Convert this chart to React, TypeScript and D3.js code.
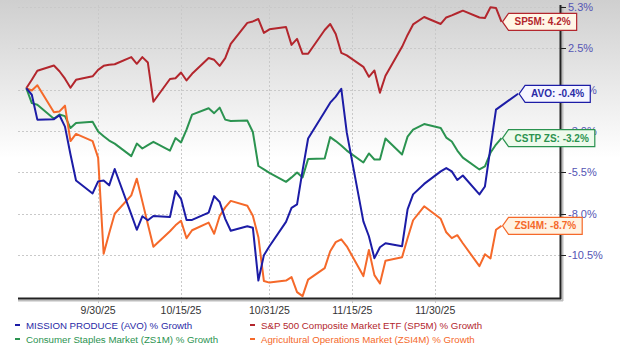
import * as d3 from 'd3'
import React, { useEffect, useRef } from 'react'

// trading days shown on the chart (2025)
const dates = [
  '9/17', '9/18', '9/19', '9/22', '9/23', '9/24', '9/25', '9/26', '9/29', '9/30',
  '10/1', '10/2', '10/3', '10/6', '10/7', '10/8', '10/9', '10/10', '10/13', '10/14',
  '10/15', '10/16', '10/17', '10/20', '10/21', '10/22', '10/23', '10/24', '10/27', '10/28',
  '10/29', '10/30', '10/31', '11/3', '11/4', '11/5', '11/6', '11/7', '11/10', '11/11',
  '11/12', '11/13', '11/14', '11/17', '11/18', '11/19', '11/20', '11/21', '11/24', '11/25',
  '11/26', '11/28', '12/1', '12/2', '12/3', '12/4', '12/5', '12/8', '12/9', '12/10',
  '12/11', '12/12', '12/15',
]

const avo = [
  0, -0.41, -1.98, -1.95, -1.7, -2.42, -4.18, -5.81, -6.63, -5.87,
  -5.81, -6.12, -5.09, -7.95, -8.92, -8.07, -8.32, -8.05, -8.12, -6.48,
  -6.97, -8.3, -8.3, -7.84, -6.8, -7.17, -8.23, -8.98, -8.7, -8.79,
  -12.12, -10.52, -9.96, -8.42, -7.54, -7.32, -5.18, -3.17, -1.48, -0.91,
  -0.53, -0.03, -2.8, -8.39, -9.33, -10.71, -10.02, -9.77, -9.96, -7.63,
  -6.69, -6.03, -5.24, -5.03, -5.24, -5.78, -5.5, -6.69, -6.19, -3.74,
  -1.35, -1.1, -0.35,
]

const sp5m = [
  0, 0.53, 1.1, 1.43, 1.07, 0.6, 0.03, 0.53, 0.75, 1.16,
  1.41, 1.48, 1.51, 1.96, 1.54, 1.96, 1.62, -0.85, 0.58, 0.63,
  0.99, 0.49, 0.91, 1.9, 1.79, 1.41, 1.9, 2.8, 4.12, 4.21,
  4.36, 3.49, 3.71, 3.86, 2.73, 3.11, 2.17, 2.17, 3.67, 4.05,
  3.42, 2.23, 2.07, 1.35, 0.72, 1.12, -0.28, 0.79, 2.61, 3.36,
  4.02, 4.49, 4.05, 4.46, 4.59, 4.74, 4.89, 4.46, 4.43, 5.1,
  5.06, 4.18,
]

const zs1m = [
  0, -0.94, -1.04, -1.92, -1.66, -1.76, -2.51, -2.19, -2.12, -2.73,
  -3.02, -3.3, -3.49, -4.28, -3.49, -3.8, -3.58, -3.38, -3.93, -3.14,
  -3.42, -2.61, -1.66, -1.26, -1.57, -1.22, -1.98, -2.07, -2.04, -2.76,
  -4.9, -5.12, -5.34, -5.9, -5.62, -5.31, -5.62, -4.46, -4.43, -3.08,
  -3.33, -3.61, -3.93, -4.68, -4.11, -4.49, -4.49, -3.17, -4.18, -3.05,
  -2.61, -2.26, -2.51, -3.11, -3.36, -3.93, -4.37, -5.12, -4.93, -4.07,
  -3.55, -3.15,
]

const zsi4m = [
  0, -0.14, 0.19, -1.51, -1.46, -1.1, -3.33, -2.88, -3.33, -4.37,
  -10.43, -9.14, -7.91, -6.75, -5.7, -7.13, -8.57, -9.99, -9.01, -8.64,
  -8.35, -9.45, -8.95, -8.47, -9.17, -8.05, -7.51, -7.1, -7.41, -8.04,
  -9.39, -12.15, -12.25, -12.12, -11.9, -12.85, -13.1, -12.06, -11.34, -10.27,
  -9.7, -9.52, -9.96, -11.84, -10.19, -11.78, -12.31, -10.87, -10.65, -9.45,
  -8.32, -7.44, -8.23, -9.08, -9.45, -9.26, -9.77, -11.21, -10.46, -10.73,
  -8.92, -8.67,
]

const yTicks = [5.12, 2.51, -0.09, -2.7, -5.31, -7.91, -10.52]
const yTickLabels = ['5.3%', '2.5%', '-0.2%', '-3.0%', '-5.5%', '-8.0%', '-10.5%']
const xTicks = ['9/30', '10/15', '10/31', '11/15', '11/30']

const series = [
  { key: 'SP5M', values: sp5m, tag: 'SP5M: 4.2%', legend: 'S&P 500 Composite Market ETF (SP5M) % Growth', color: '#b3262d', fill: '#fff6e6', text: '#b3262d' },
  { key: 'ZS1M', values: zs1m, tag: 'CSTP ZS: -3.2%', legend: 'Consumer Staples Market (ZS1M) % Growth', color: '#2b9350', fill: '#eefaec', text: '#2b9350' },
  { key: 'ZSI4M', values: zsi4m, tag: 'ZSI4M: -8.7%', legend: 'Agricultural Operations Market (ZSI4M) % Growth', color: '#f5692a', fill: '#fff3e3', text: '#f5692a' },
  { key: 'AVO', values: avo, tag: 'AVO: -0.4%', legend: 'MISSION PRODUCE (AVO) % Growth', color: '#1c1ca6', fill: '#f6f6ff', text: '#2a2aa6' },
]
const legendOrder = ['AVO', 'SP5M', 'ZS1M', 'ZSI4M']

const W = 620
const H = 352
const left = 18
const right = 560
const top = 5
const bottom = 298
const font = 'Liberation Sans, Arial, sans-serif'

const parse = (s: string) => {
  const [m, d] = s.split('/').map(Number)
  return new Date(2025, m - 1, d)
}

export default function App() {
  const ref = useRef<SVGSVGElement>(null)

  useEffect(() => {
    const svg = d3.select(ref.current)
    svg.selectAll('*').remove()

    const x = d3.scaleTime()
      .domain([new Date(2025, 8, 15, 12), new Date(2025, 11, 22, 14)])
      .range([left, right])
    const y = d3.scaleLinear().domain([-13.22, 5.245]).range([bottom, top])

    const defs = svg.append('defs')
    const grad = defs.append('linearGradient').attr('id', 'bg').attr('x1', 0).attr('x2', 0).attr('y1', 0).attr('y2', 1)
    grad.append('stop').attr('offset', 0).attr('stop-color', '#cfcfcf')
    grad.append('stop').attr('offset', 0.45).attr('stop-color', '#ffffff')
    svg.append('rect').attr('width', W).attr('height', H).attr('fill', 'url(#bg)')

    // grid
    const grid = svg.append('g').attr('stroke', '#c9c9c9').attr('stroke-dasharray', '2,2').attr('stroke-width', 1)
    grid.selectAll('line.h').data(yTicks).join('line')
      .attr('x1', left).attr('x2', right)
      .attr('y1', d => Math.round(y(d)) + 0.5).attr('y2', d => Math.round(y(d)) + 0.5)
    grid.selectAll('line.v').data(xTicks).join('line')
      .attr('x1', d => Math.round(x(parse(d))) + 0.5).attr('x2', d => Math.round(x(parse(d))) + 0.5)
      .attr('y1', top).attr('y2', bottom + 5)

    // lines
    const line = d3.line<number>()
      .x((d, i) => x(parse(dates[i])))
      .y(d => y(d))
    svg.append('g').selectAll('path').data(series).join('path')
      .attr('d', s => line(s.values))
      .attr('fill', 'none')
      .attr('stroke', s => s.color)
      .attr('stroke-width', 2)
      .attr('stroke-linejoin', 'round')

    // axes with shadow
    svg.append('line').attr('x1', left).attr('x2', right + 3).attr('y1', bottom + 2.5).attr('y2', bottom + 2.5).attr('stroke', '#bdbdbd').attr('stroke-width', 2)
    svg.append('line').attr('x1', right + 2.5).attr('x2', right + 2.5).attr('y1', top + 1).attr('y2', bottom + 3).attr('stroke', '#bdbdbd').attr('stroke-width', 2)
    svg.append('line').attr('x1', left).attr('x2', right + 1).attr('y1', bottom + 0.5).attr('y2', bottom + 0.5).attr('stroke', '#222').attr('stroke-width', 2)
    svg.append('line').attr('x1', right + 0.5).attr('x2', right + 0.5).attr('y1', top).attr('y2', bottom + 1).attr('stroke', '#222').attr('stroke-width', 2)

    // y ticks on the right
    const yt = svg.append('g')
    yt.selectAll('line').data(yTicks).join('line')
      .attr('x1', right + 1).attr('x2', right + 6)
      .attr('y1', d => Math.round(y(d)) + 0.5).attr('y2', d => Math.round(y(d)) + 0.5)
      .attr('stroke', '#222')
    yt.selectAll('text').data(yTicks).join('text')
      .attr('x', right + 8).attr('y', d => y(d) + 4)
      .attr('font-family', font).attr('font-size', 11).attr('fill', '#5454b4')
      .text((d, i) => yTickLabels[i])

    // x ticks
    svg.append('g').selectAll('text').data(xTicks).join('text')
      .attr('x', d => x(parse(d))).attr('y', bottom + 16)
      .attr('text-anchor', 'middle')
      .attr('font-family', font).attr('font-size', 10.5).attr('fill', '#333')
      .text(d => d + '/25')

    // end tags, drawn over the axis labels like the original
    const tags = svg.append('g')
    series.forEach(s => {
      const last = s.values.length - 1
      const tx = x(parse(dates[last])) + 1
      const ty = y(s.values[last])
      const g = tags.append('g')
      const t = g.append('text')
        .attr('font-family', font).attr('font-size', 10).attr('font-weight', 'bold')
        .attr('fill', s.text).attr('y', ty + 3.5).text(s.tag)
      const tw = (t.node() as SVGTextElement).getComputedTextLength()
      const bx = tx + 6
      const bw = tw + 12
      const h = 8.5
      g.insert('path', 'text')
        .attr('d', `M${tx},${ty} L${bx},${ty - h} L${bx + bw},${ty - h} L${bx + bw},${ty + h} L${bx},${ty + h} Z`)
        .attr('fill', s.fill).attr('stroke', s.color).attr('stroke-width', 1.2)
      t.attr('x', bx + 6)
    })

    // legend
    const lg = svg.append('g')
    legendOrder.forEach((k, i) => {
      const s = series.find(d => d.key === k)!
      const lx = i % 2 === 0 ? 15 : 250
      const ly = i < 2 ? 325 : 339
      lg.append('line').attr('x1', lx).attr('x2', lx + 5).attr('y1', ly).attr('y2', ly)
        .attr('stroke', s.color).attr('stroke-width', 2)
      lg.append('text').attr('x', lx + 11).attr('y', ly + 3.5)
        .attr('font-family', font).attr('font-size', 9.7).attr('fill', s.text)
        .text(s.legend)
    })
  }, [])

  return <svg ref={ref} width={W} height={H} style={{ position: 'absolute', left: 0, top: 0 }} />
}
